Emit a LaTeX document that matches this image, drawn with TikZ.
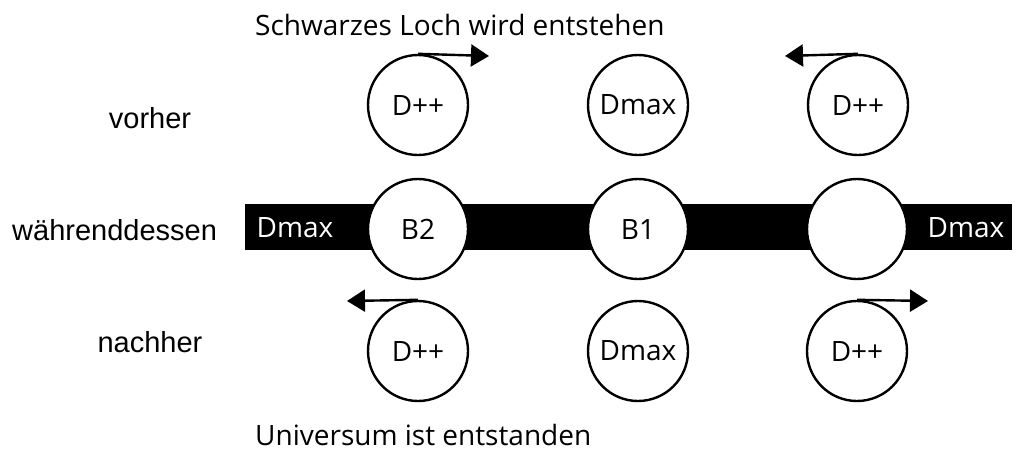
\documentclass[tikz,border=0pt]{standalone}
\usepackage{fontspec}
\setmainfont{Open Sans}
\newfontfamily\labelfont{Liberation Sans}
\usetikzlibrary{arrows.meta}
\begin{document}
\begin{tikzpicture}[x=1pt,y=-1pt,
  ball/.style={circle,draw,line width=2.4pt,fill=white,minimum size=100pt,inner sep=0pt,font=\fontsize{28}{32}\selectfont},
  rowlabel/.style={font=\labelfont\fontsize{29}{34}\selectfont},
  caption/.style={font=\fontsize{28}{32}\selectfont,anchor=west,inner sep=0pt},
  bandtext/.style={text=white,font=\fontsize{28}{32}\selectfont,inner sep=0pt},
  spin/.style={line width=2.4pt,-{Triangle[length=18pt,width=22pt]}}]
\useasboundingbox (0,0) rectangle (1018,451);

% black band
\node[fill=black,minimum width=767pt,minimum height=46pt,inner sep=0pt,anchor=north west] (band) at (245,204) {};
\node[bandtext] (bl) at (295,228) {Dmax};
\node[bandtext] (br) at (966,228) {Dmax};

% captions
\node[caption] (top) at (255,25) {Schwarzes Loch wird entstehen};
\node[caption] (bot) at (255,435) {Universum ist entstanden};

% row labels
\node[rowlabel] (l1) at (150,118) {vorher};
\node[rowlabel,anchor=west,inner sep=0pt] (l2) at (12,230) {währenddessen};
\node[rowlabel] (l3) at (150,342) {nachher};

% before
\node[ball] (a1) at (418,105) {D++};
\node[ball] (a2) at (638,105) {Dmax};
\node[ball] (a3) at (858,105) {D++};
% during
\node[ball] (b1) at (418,229) {B2};
\node[ball] (b2) at (638,229) {B1};
\node[ball] (b3) at (857,229) {};
% after
\node[ball] (c1) at (418,351) {D++};
\node[ball] (c2) at (638,351) {Dmax};
\node[ball] (c3) at (857,351) {D++};

% spin arrows
\coordinate (ta1) at (489,56);
\coordinate (ta3) at (785,56);
\coordinate (tc1) at (347,301);
\coordinate (tc3) at (928,301);
\draw[spin] (a1.north) -- (ta1);
\draw[spin] (a3.north) -- (ta3);
\draw[spin] (c1.north) -- (tc1);
\draw[spin] (c3.north) -- (tc3);
\end{tikzpicture}
\end{document}
